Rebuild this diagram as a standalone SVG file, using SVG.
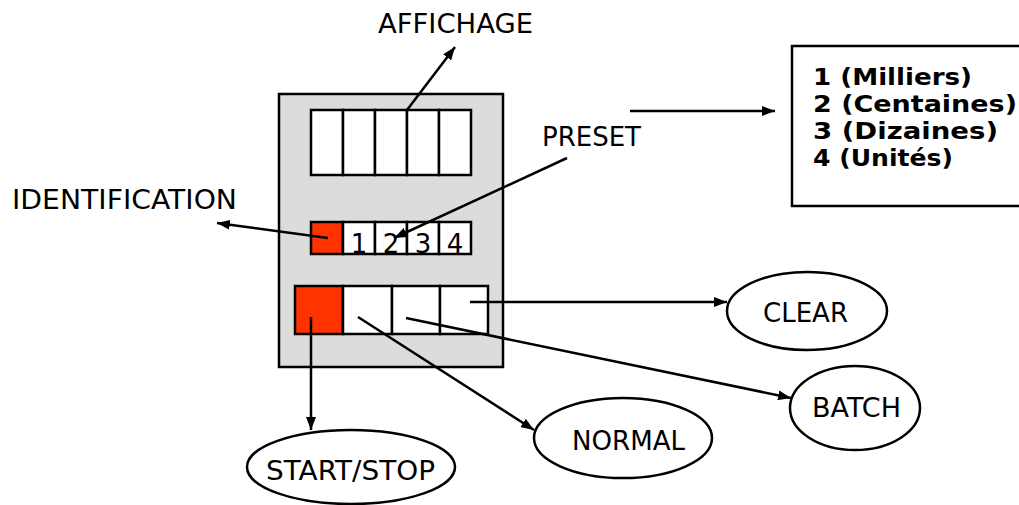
<svg xmlns="http://www.w3.org/2000/svg" width="1019" height="505" viewBox="0 0 1019 505">
<defs>
<marker id="ah" markerUnits="userSpaceOnUse" markerWidth="14" markerHeight="10" refX="13" refY="5" orient="auto">
<path d="M0,0 L13,5 L0,10 Z" fill="#000"/>
</marker>
<style>
.t{font-family:"DejaVu Sans",Verdana,sans-serif;font-size:26px;fill:#000}
.d{font-family:"DejaVu Sans",Verdana,sans-serif;font-size:26px;fill:#000}
.b{font-family:"DejaVu Sans",Verdana,sans-serif;font-size:23px;font-weight:bold;fill:#000}
.cell{fill:#fff;stroke:#000;stroke-width:2.5}
.red{fill:#ff3300;stroke:#000;stroke-width:2.5}
.ell{fill:#fff;stroke:#000;stroke-width:2.5}
.c{stroke:#000;stroke-width:2.5;fill:none;marker-end:url(#ah)}
</style>
</defs>
<rect width="1019" height="505" fill="#fff"/>
<g id="panel">
<rect x="279" y="94" width="224" height="273" fill="#dcdcdc" stroke="#000" stroke-width="2.5"/>
</g>
<g id="display">
<rect class="cell" x="311" y="110" width="32" height="65"/>
<rect class="cell" x="343" y="110" width="32" height="65"/>
<rect class="cell" x="375" y="110" width="32" height="65"/>
<rect class="cell" x="407" y="110" width="32" height="65"/>
<rect class="cell" x="439" y="110" width="32" height="65"/>
</g>
<g id="preset-row">
<rect class="red" x="311" y="222" width="32" height="32"/>
<rect class="cell" x="343" y="222" width="32" height="32"/>
<rect class="cell" x="375" y="222" width="32" height="32"/>
<rect class="cell" x="407" y="222" width="32" height="32"/>
<rect class="cell" x="439" y="222" width="32" height="32"/>
<text class="d" x="359" y="253" text-anchor="middle">1</text>
<text class="d" x="391" y="253" text-anchor="middle">2</text>
<text class="d" x="423" y="253" text-anchor="middle">3</text>
<text class="d" x="455" y="253" text-anchor="middle">4</text>
</g>
<g id="buttons">
<rect class="red" x="295" y="286" width="48" height="48"/>
<rect class="cell" x="343" y="286" width="49" height="48"/>
<rect class="cell" x="392" y="286" width="48" height="48"/>
<rect class="cell" x="440" y="286" width="48" height="48"/>
</g>
<g id="label-affichage"><text class="t" x="378" y="33" textLength="155" lengthAdjust="spacingAndGlyphs">AFFICHAGE</text></g>
<g id="label-preset"><text class="t" x="542" y="146" textLength="99" lengthAdjust="spacingAndGlyphs">PRESET</text></g>
<g id="label-identification"><text class="t" x="12" y="209" textLength="225" lengthAdjust="spacingAndGlyphs">IDENTIFICATION</text></g>
<g id="legend">
<rect x="792" y="46" width="400" height="160" fill="#fff" stroke="#000" stroke-width="2.5"/>
<text class="b" x="813" y="85" textLength="159" lengthAdjust="spacingAndGlyphs">1 (Milliers)</text>
<text class="b" x="813" y="112" textLength="204" lengthAdjust="spacingAndGlyphs">2 (Centaines)</text>
<text class="b" x="813" y="139" textLength="185" lengthAdjust="spacingAndGlyphs">3 (Dizaines)</text>
<text class="b" x="813" y="166" textLength="140" lengthAdjust="spacingAndGlyphs">4 (Unités)</text>
</g>
<g id="clear">
<ellipse class="ell" cx="807" cy="311" rx="80" ry="39"/>
<text class="t" x="763" y="322" textLength="85" lengthAdjust="spacingAndGlyphs">CLEAR</text>
</g>
<g id="batch">
<ellipse class="ell" cx="855" cy="408" rx="65" ry="42"/>
<text class="t" x="812" y="417" textLength="89" lengthAdjust="spacingAndGlyphs">BATCH</text>
</g>
<g id="normal">
<ellipse class="ell" cx="623" cy="438" rx="89" ry="40"/>
<text class="t" x="572" y="450" textLength="113" lengthAdjust="spacingAndGlyphs">NORMAL</text>
</g>
<g id="startstop">
<ellipse class="ell" cx="351" cy="467" rx="104" ry="37"/>
<text class="t" x="266" y="480" textLength="169" lengthAdjust="spacingAndGlyphs">START/STOP</text>
</g>
<g id="connectors">
<line class="c" x1="407" y1="110" x2="455" y2="47"/>
<line class="c" x1="567" y1="158" x2="394" y2="238"/>
<line class="c" x1="328" y1="238" x2="217" y2="223"/>
<line class="c" x1="630" y1="111" x2="775" y2="111"/>
<line class="c" x1="470" y1="302" x2="727" y2="302"/>
<line class="c" x1="406" y1="318" x2="791" y2="398"/>
<line class="c" x1="358" y1="317" x2="534" y2="430"/>
<line class="c" x1="311" y1="317" x2="311" y2="430"/>
</g>
</svg>
